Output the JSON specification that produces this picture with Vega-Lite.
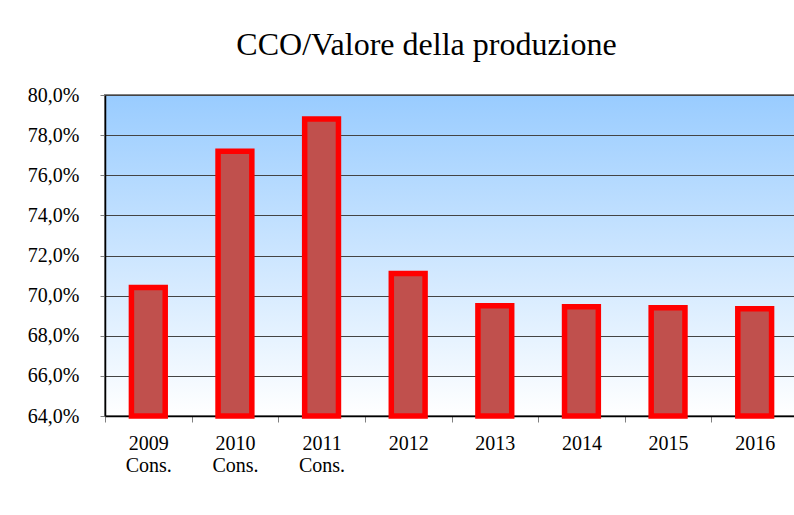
{
  "$schema": "https://vega.github.io/schema/vega-lite/v6.json",
  "width": 693,
  "height": 321,
  "autosize": "none",
  "padding": {"left": 105, "top": 95, "right": 0, "bottom": 99},
  "background": "white",
  "title": {
    "text": "CCO/Valore della produzione",
    "font": "Liberation Serif",
    "fontSize": 32,
    "fontWeight": "normal",
    "color": "#000000",
    "anchor": "middle",
    "dx": -25,
    "offset": -2,
    "baseline": "alphabetic"
  },
  "data": {
    "values": [
      {"anno": "2009 Cons.", "valore": 70.4},
      {"anno": "2010 Cons.", "valore": 77.2},
      {"anno": "2011 Cons.", "valore": 78.8},
      {"anno": "2012", "valore": 71.1},
      {"anno": "2013", "valore": 69.5},
      {"anno": "2014", "valore": 69.45},
      {"anno": "2015", "valore": 69.4},
      {"anno": "2016", "valore": 69.35}
    ]
  },
  "mark": {
    "type": "bar",
    "fill": "#C0504D",
    "stroke": "#FF0000",
    "strokeWidth": 5.5,
    "width": {"band": 0.39}
  },
  "encoding": {
    "x": {
      "field": "anno",
      "type": "nominal",
      "sort": null,
      "scale": {"paddingInner": 0, "paddingOuter": 0},
      "axis": {
        "title": null,
        "labelAngle": 0,
        "tickBand": "extent",
        "labelExpr": "split(datum.label, ' ')",
        "labelLineHeight": 22,
        "labelFont": "Liberation Serif",
        "labelFontSize": 20,
        "labelColor": "#000000",
        "labelPadding": 11,
        "tickSize": 6,
        "tickColor": "#808080",
        "domainColor": "#000000",
        "domainWidth": 1.5,
        "grid": false
      }
    },
    "y": {
      "field": "valore",
      "type": "quantitative",
      "scale": {"domain": [64, 80], "zero": false, "nice": false},
      "axis": {
        "title": null,
        "values": [64, 66, 68, 70, 72, 74, 76, 78, 80],
        "labelExpr": "replace(format(datum.value, '.1f'), '.', ',') + '%'",
        "labelFont": "Liberation Serif",
        "labelFontSize": 20,
        "labelColor": "#000000",
        "labelPadding": 21,
        "tickSize": 5,
        "tickColor": "#808080",
        "domainColor": "#000000",
        "domainWidth": 1.5,
        "grid": true,
        "gridColor": "#444444",
        "gridWidth": 1
      }
    },
    "y2": {"datum": 64}
  },
  "config": {
    "view": {
      "fill": {
        "gradient": "linear",
        "x1": 0, "y1": 0, "x2": 0, "y2": 1,
        "stops": [
          {"offset": 0, "color": "#99CCFF"},
          {"offset": 1, "color": "#FFFFFF"}
        ]
      },
      "stroke": "#808080",
      "strokeWidth": 2
    }
  }
}
